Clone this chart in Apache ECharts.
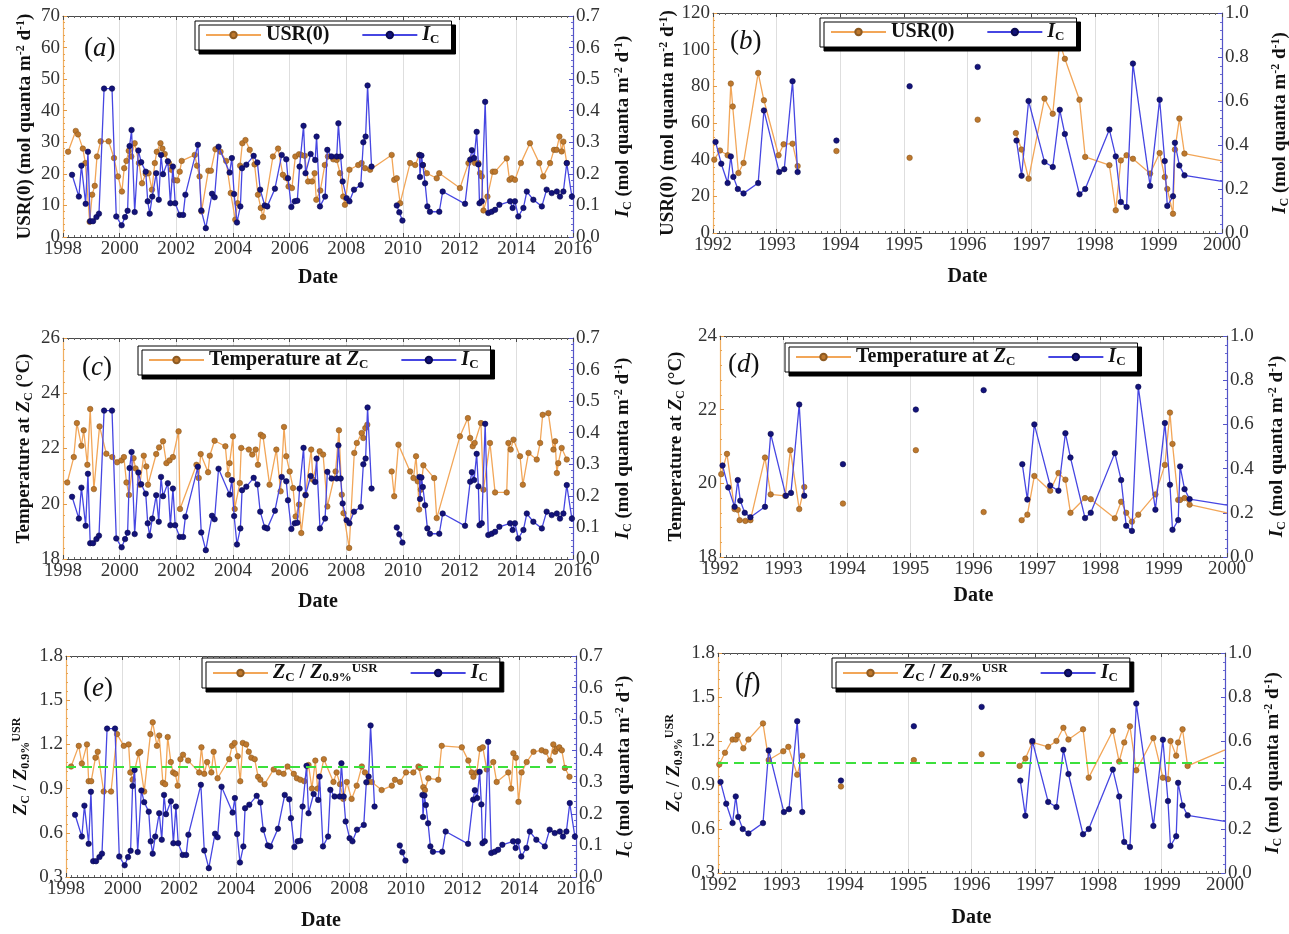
<!DOCTYPE html>
<html>
<head>
<meta charset="utf-8">
<script src="https://cdn.jsdelivr.net/npm/echarts@6/dist/echarts.min.js"></script>
<style>
  html, body { margin: 0; padding: 0; background: #fff; }
  #chart { width: 1289px; height: 934px; }
</style>
</head>
<body>
<div id="chart"></div>
<script>
// ---------- Data: [decimal year, value]; null breaks the joined line ----------

// Compensation irradiance I_C (mol quanta m^-2 d^-1), 1998-2016 record
const icLate = [
  [1998.32,0.197],[1998.56,0.128],[1998.65,0.226],[1998.80,0.105],[1998.88,0.27],[1998.96,0.05],
  [1999.06,0.05],[1999.18,0.063],[1999.27,0.074],[1999.45,0.47],[1999.73,0.47],[1999.88,0.065],
  [2000.07,0.037],[2000.19,0.063],[2000.28,0.083],[2000.35,0.288],[2000.42,0.339],[2000.53,0.079],
  [2000.66,0.274],[2000.76,0.237],[2000.92,0.207],[2000.99,0.113],[2001.06,0.074],[2001.15,0.128],
  [2001.29,0.202],[2001.38,0.118],[2001.46,0.26],[2001.53,0.199],[2001.70,0.24],[2001.79,0.107],
  [2001.88,0.223],[2001.96,0.107],[2002.12,0.07],[2002.24,0.07],[2002.32,0.134],[2002.76,0.292],
  [2002.88,0.084],[2003.04,0.028],[2003.26,0.137],[2003.35,0.126],[2003.49,0.286],[2003.88,0.204],
  [2003.96,0.25],[2004.04,0.136],[2004.14,0.046],[2004.26,0.097],[2004.32,0.218],[2004.47,0.229],
  [2004.73,0.257],[2004.86,0.236],[2004.96,0.15],[2005.12,0.10],[2005.21,0.097],[2005.48,0.153],
  [2005.72,0.26],[2005.88,0.246],[2005.94,0.186],[2006.06,0.095],[2006.18,0.113],[2006.27,0.115],
  [2006.35,0.223],[2006.49,0.352],[2006.56,0.202],[2006.74,0.263],[2006.90,0.244],[2006.95,0.318],
  [2007.07,0.097],[2007.25,0.128],[2007.33,0.276],[2007.48,0.255],[2007.66,0.255],[2007.72,0.36],
  [2007.80,0.255],[2007.87,0.176],[2008.01,0.123],[2008.11,0.113],[2008.27,0.15],[2008.51,0.165],
  [2008.60,0.30],[2008.68,0.318],[2008.75,0.48],[2008.89,0.223],[2009.30,null],
  [2009.78,0.10],[2009.87,0.078],[2009.98,0.052],[2010.30,null],
  [2010.58,0.26],[2010.60,0.19],[2010.65,0.258],[2010.70,0.228],[2010.78,0.17],[2010.86,0.097],
  [2010.95,0.08],[2011.28,0.08],[2011.40,0.144],[2012.19,0.105],[2012.37,0.245],[2012.43,0.275],
  [2012.51,0.25],[2012.60,0.333],[2012.66,0.23],[2012.70,0.107],[2012.78,0.113],[2012.90,0.428],
  [2013.01,0.076],[2013.13,0.08],[2013.25,0.086],[2013.40,0.102],[2013.78,0.113],[2013.87,0.092],
  [2013.95,0.113],[2014.07,0.065],[2014.25,0.092],[2014.37,0.144],[2014.60,0.118],[2014.90,0.097],
  [2015.07,0.15],[2015.25,0.139],[2015.43,0.144],[2015.54,0.128],[2015.66,0.144],[2015.78,0.234],
  [2015.96,0.128]
];

// Surface radiation USR(0) (mol quanta m^-2 d^-1), 1998-2016
const usrLate = [
  [1998.18,27],[1998.45,33.6],[1998.53,32.5],[1998.70,28],[1998.79,23.4],[1998.94,4.8],[1999.03,13.4],
  [1999.12,16.2],[1999.20,25.5],[1999.33,30.3],[1999.61,30.3],[1999.80,25],[1999.94,19.2],[2000.08,14.4],
  [2000.16,21.8],[2000.24,24.1],[2000.32,27.3],[2000.41,25.5],[2000.53,29.7],[2000.68,23.4],[2000.79,17],
  [2000.92,20],[2001.02,20.2],[2001.14,15],[2001.24,23.4],[2001.31,27],[2001.44,29.7],[2001.51,28],
  [2001.59,26.3],[2001.74,23.4],[2001.82,21.3],[2001.93,18],[2002.03,17.9],[2002.12,20.7],[2002.19,24.1],
  [2002.65,26],[2002.73,22.6],[2002.82,19.2],[2002.89,8.1],[2003.13,21],[2003.22,21],[2003.38,27.8],
  [2003.56,27],[2003.76,24.1],[2003.92,13.9],[2004.08,5.5],[2004.16,10.7],[2004.25,22.6],[2004.33,29.7],
  [2004.44,30.7],[2004.59,27.6],[2004.76,23],[2004.88,13.4],[2004.98,9.2],[2005.06,6.3],[2005.41,25.5],
  [2005.59,28],[2005.76,19.7],[2005.86,18.8],[2005.96,16],[2006.08,15.5],[2006.20,25.5],[2006.33,26.2],
  [2006.41,26],[2006.53,25.7],[2006.65,17.6],[2006.79,17.6],[2006.88,20.2],[2006.94,11.8],[2007.08,14.7],
  [2007.24,22.8],[2007.35,25.5],[2007.54,24.6],[2007.66,24.4],[2007.78,20.2],[2007.89,12.8],[2007.95,10.2],
  [2008.11,21.3],[2008.42,22.8],[2008.54,23.4],[2008.66,21.8],[2008.84,21.3],[2009.60,26],[2009.69,18.1],
  [2009.78,18.6],[2009.90,10.7],[2010.25,23.4],[2010.43,22.8],[2010.58,26],[2010.70,22.8],[2010.84,20.2],
  [2011.19,18.6],[2011.28,20.2],[2012.01,15.5],[2012.31,23.4],[2012.43,24.9],[2012.54,23.4],[2012.66,23.4],
  [2012.72,20.2],[2012.78,19.2],[2012.84,8.4],[2012.98,12.8],[2013.17,20.7],[2013.25,20.7],[2013.66,24.9],
  [2013.76,18.1],[2013.84,18.6],[2013.95,18.1],[2014.16,23.4],[2014.48,29.7],[2014.81,23.4],[2014.95,19.2],
  [2015.19,23.4],[2015.33,27.6],[2015.42,27.6],[2015.52,31.8],[2015.60,27.1],[2015.66,30.2],[2015.78,23.4]
];

// Temperature at Z_C (°C), 1998-2016
const tempLate = [
  [1998.15,20.77],[1998.38,21.69],[1998.49,22.92],[1998.65,22.1],[1998.73,22.66],[1998.86,21.41],
  [1998.96,23.43],[1999.09,20.53],[1999.29,22.8],[1999.53,21.81],[1999.74,21.69],[1999.91,21.5],
  [2000.06,21.57],[2000.15,21.69],[2000.24,20.77],[2000.33,20.32],[2000.49,21.65],[2000.56,21.28],
  [2000.71,20.69],[2000.85,21.74],[2000.94,21.35],[2001.00,20.69],[2001.29,21.8],[2001.39,22.04],
  [2001.53,22.26],[2001.65,21.47],[2001.76,21.57],[2001.88,21.69],[2002.08,22.62],[2002.13,19.81],
  [2002.71,21.41],[2002.79,20.93],[2002.86,21.8],[2003.12,21.14],[2003.18,21.74],[2003.35,22.28],
  [2003.73,22.08],[2003.82,21.05],[2003.88,21.47],[2004.00,22.44],[2004.06,19.81],[2004.24,20.75],
  [2004.29,22.02],[2004.56,21.96],[2004.68,21.78],[2004.80,21.96],[2004.88,21.41],[2004.98,22.5],
  [2005.06,22.44],[2005.29,20.69],[2005.53,21.96],[2005.68,20.45],[2005.80,22.78],[2005.88,21.72],
  [2006.00,21.17],[2006.12,20.57],[2006.21,19.54],[2006.33,19.97],[2006.41,18.94],[2006.56,20.33],
  [2006.76,21.96],[2006.82,20.87],[2007.06,21.9],[2007.18,21.78],[2007.33,19.9],[2007.62,21.17],
  [2007.74,22.66],[2007.84,20.33],[2007.90,19.66],[2008.10,18.4],[2008.28,21.84],[2008.37,22.2],
  [2008.54,22.56],[2008.60,22.38],[2008.67,22.74],[2008.74,22.86],[2009.20,null],
  [2009.60,21.17],[2009.69,20.27],[2009.84,22.14],[2010.25,21.17],[2010.37,20.93],[2010.46,21.72],
  [2010.52,20.81],[2010.57,19.79],[2010.63,20.51],[2010.72,21.39],[2011.10,20.93],[2011.19,19.48],
  [2012.01,22.44],[2012.29,23.1],[2012.37,22.38],[2012.46,22.08],[2012.53,22.2],[2012.75,22.92],
  [2012.84,20.51],[2013.07,22.2],[2013.25,20.41],[2013.66,20.41],[2013.72,22.2],[2013.80,21.96],
  [2013.90,22.32],[2014.13,21.72],[2014.23,20.69],[2014.43,21.84],[2014.72,21.6],[2014.84,22.2],
  [2014.93,23.22],[2015.13,23.28],[2015.31,21.96],[2015.37,22.26],[2015.43,21.11],[2015.48,21.47],
  [2015.60,22.02],[2015.78,21.6]
];

// Depth ratio Z_C / Z_0.9%^USR, 1998-2016
const ratioLate = [
  [1998.18,1.05],[1998.45,1.19],[1998.56,1.07],[1998.74,1.2],[1998.80,0.95],[1998.89,0.95],[1999.04,1.11],
  [1999.12,1.15],[1999.33,0.88],[1999.59,0.88],[1999.80,1.27],[2000.04,1.19],[2000.21,1.2],[2000.27,1.01],
  [2000.35,0.96],[2000.56,1.14],[2000.62,1.15],[2000.76,0.88],[2000.98,1.27],[2001.06,1.35],[2001.21,1.19],
  [2001.29,1.26],[2001.42,0.94],[2001.50,0.93],[2001.59,1.25],[2001.70,1.08],[2001.78,1.01],[2001.86,1.0],
  [2001.94,0.92],[2002.04,1.1],[2002.13,1.13],[2002.31,1.09],[2002.70,1.01],[2002.78,1.18],[2002.88,1.0],
  [2002.98,1.08],[2003.13,1.01],[2003.21,1.15],[2003.35,0.97],[2003.76,1.1],[2003.86,1.19],[2003.95,1.21],
  [2004.06,1.12],[2004.15,0.95],[2004.24,1.21],[2004.36,1.2],[2004.45,1.15],[2004.54,1.11],[2004.66,1.1],
  [2004.78,0.98],[2004.86,0.96],[2005.01,0.93],[2005.33,1.03],[2005.51,1.01],[2005.68,1.0],[2005.82,1.05],
  [2006.04,1.0],[2006.15,0.97],[2006.27,0.96],[2006.41,0.95],[2006.56,1.06],[2006.68,0.9],[2006.80,1.09],
  [2006.88,0.9],[2007.10,1.1],[2007.44,0.945],[2007.55,1.01],[2007.67,0.93],[2007.79,0.83],[2007.91,0.945],
  [2008.08,0.83],[2008.26,0.92],[2008.44,1.05],[2008.55,1.01],[2008.67,0.945],[2008.79,0.945],[2009.14,0.89],
  [2009.50,0.92],[2009.61,0.96],[2009.79,0.945],[2010.00,1.01],[2010.26,1.01],[2010.44,1.05],[2010.50,1.04],
  [2010.61,0.91],[2010.67,0.89],[2010.79,0.97],[2011.14,0.96],[2011.26,1.19],[2011.97,1.18],[2012.20,1.09],
  [2012.32,1.01],[2012.38,0.98],[2012.50,1.01],[2012.61,1.17],[2012.71,1.18],[2012.85,1.03],[2013.08,1.08],
  [2013.20,0.945],[2013.61,1.01],[2013.71,0.9],[2013.79,1.14],[2013.88,1.11],[2013.97,0.81],[2014.08,1.01],
  [2014.26,1.08],[2014.50,1.15],[2014.79,1.16],[2014.93,1.15],[2015.08,1.09],[2015.20,1.2],[2015.26,1.15],
  [2015.32,1.17],[2015.41,1.18],[2015.50,1.16],[2015.61,1.04],[2015.77,0.98]
];

// I_C, 1992-2000 record
const icEarly = [
  [1992.04,0.414],[1992.13,0.315],[1992.23,0.227],[1992.28,0.348],[1992.32,0.255],[1992.39,0.20],
  [1992.48,0.18],[1992.71,0.227],[1992.80,0.557],[1993.04,0.277],[1993.12,0.29],[1993.25,0.69],
  [1993.33,0.277],[1993.60,null],[1993.94,0.42],[1994.50,null],[1995.09,0.667],[1995.60,null],
  [1996.16,0.755],[1996.50,null],[1996.77,0.42],[1996.85,0.26],[1996.96,0.60],[1997.21,0.323],
  [1997.34,0.30],[1997.45,0.56],[1997.53,0.45],[1997.76,0.176],[1997.85,0.20],[1998.23,0.47],
  [1998.33,0.348],[1998.41,0.141],[1998.50,0.118],[1998.60,0.77],[1998.87,0.214],[1999.02,0.606],
  [1999.10,0.327],[1999.14,0.123],[1999.23,0.167],[1999.26,0.41],[1999.33,0.307],[1999.41,0.262],
  [2000.00,0.235]
];

// USR(0), 1992-2000
const usrEarly = [
  [1992.02,40],[1992.11,45],[1992.23,42.4],[1992.28,81.5],[1992.31,69],[1992.40,32.7],[1992.48,38.2],
  [1992.71,87.3],[1992.80,72.4],[1993.03,42.4],[1993.11,48.4],[1993.25,48.7],[1993.33,36.5],[1993.60,null],
  [1993.94,44.7],[1994.50,null],[1995.09,41],[1995.60,null],[1996.16,61.8],[1996.50,null],
  [1996.76,54.5],[1996.85,45.5],[1996.96,29.6],[1997.21,73.3],[1997.34,65],[1997.45,104],[1997.53,95],
  [1997.76,72.7],[1997.85,41.5],[1998.23,37],[1998.33,12.4],[1998.41,39.6],[1998.50,42.4],[1998.60,40.5],
  [1998.87,32.4],[1999.02,43.6],[1999.10,30.5],[1999.14,24],[1999.23,10.5],[1999.26,45.5],[1999.33,62.4],
  [1999.41,43.3],[2000.00,39.3]
];

// Temperature at Z_C, 1992-2000
const tempEarly = [
  [1992.02,20.25],[1992.11,20.8],[1992.23,19.3],[1992.28,19.28],[1992.31,19.0],[1992.40,18.98],
  [1992.48,19.0],[1992.71,20.7],[1992.80,19.7],[1993.03,19.66],[1993.11,20.9],[1993.25,19.3],
  [1993.33,19.9],[1993.60,null],[1993.94,19.45],[1994.50,null],[1995.09,20.9],[1995.60,null],
  [1996.16,19.22],[1996.50,null],[1996.76,19.0],[1996.85,19.15],[1996.96,20.2],[1997.21,19.8],
  [1997.34,20.28],[1997.45,20.1],[1997.53,19.2],[1997.76,19.6],[1997.85,19.57],[1998.23,19.05],
  [1998.33,19.5],[1998.41,19.2],[1998.50,18.96],[1998.60,19.15],[1998.87,19.7],[1999.02,20.5],
  [1999.10,21.92],[1999.14,21.07],[1999.23,19.55],[1999.26,19.55],[1999.33,19.6],[1999.41,19.42],
  [2000.00,19.2]
];

// Z_C / Z_0.9%^USR, 1992-2000
const ratioEarly = [
  [1992.02,1.04],[1992.11,1.12],[1992.23,1.21],[1992.28,1.21],[1992.31,1.24],[1992.40,1.15],
  [1992.48,1.21],[1992.71,1.32],[1992.80,1.07],[1993.03,1.13],[1993.11,1.16],[1993.25,0.97],
  [1993.33,1.1],[1993.60,null],[1993.94,0.89],[1994.50,null],[1995.09,1.07],[1995.60,null],
  [1996.16,1.11],[1996.50,null],[1996.76,1.03],[1996.85,1.08],[1996.96,1.19],[1997.21,1.16],
  [1997.34,1.2],[1997.45,1.29],[1997.53,1.21],[1997.76,1.28],[1997.85,0.95],[1998.23,1.27],
  [1998.33,1.06],[1998.41,1.19],[1998.50,1.3],[1998.60,1.0],[1998.87,1.22],[1999.02,0.95],
  [1999.10,0.94],[1999.14,1.2],[1999.23,1.1],[1999.26,1.19],[1999.33,1.28],[1999.41,1.03],
  [2000.00,1.14]
];

// Reference level of the depth ratio (dashed line)
const ratioThreshold = 1.05;

// Axis ranges: [min, max, interval]
const xLate = [1998, 2016, 2];
const xEarly = [1992, 2000, 1];
const yUsrLate = [0, 70, 10];
const yUsrEarly = [0, 120, 20];
const yTempLate = [18, 26, 2];
const yTempEarly = [18, 24, 2];
const yRatio = [0.3, 1.8, 0.3];
const yIcLate = [0, 0.7, 0.1];
const yIcEarly = [0, 1.0, 0.2];

// ---------- Styling ----------
const SERIF = '"Liberation Serif", "Times New Roman", serif';
const ORANGE_LINE = '#F2A658';
const ORANGE_DOT = '#BE782D';
const BLUE_LINE = '#4646E2';
const BLUE_DOT = '#13137A';
const AXIS_GREY = '#4a4a4a';

function richSet(size) {
  const small = Math.round(size * 0.64);
  const shift = Math.round(size * 0.45);
  return {
    b: { fontFamily: SERIF, fontWeight: 'bold', fontSize: size, color: '#111' },
    it: { fontFamily: SERIF, fontWeight: 'bold', fontStyle: 'italic', fontSize: size, color: '#111' },
    sub: { fontFamily: SERIF, fontWeight: 'bold', fontSize: small, color: '#111', padding: [shift, 0, 0, 0] },
    sup: { fontFamily: SERIF, fontWeight: 'bold', fontSize: small, color: '#111', padding: [0, 0, shift, 0] }
  };
}

const T_USR = '{b|USR(0) (mol quanta m}{sup|-2}{b| d}{sup|-1}{b|)}';
const T_IC = '{it|I}{sub|C}{b| (mol quanta m}{sup|-2}{b| d}{sup|-1}{b|)}';
const T_TEMP = '{b|Temperature at }{it|Z}{sub|C}{b| (°C)}';
const T_RATIO = '{it|Z}{sub|C}{b| / }{it|Z}{sub|0.9%}{sup|USR}';
const L_USR = '{b|USR(0)}';
const L_IC = '{it|I}{sub|C}';
const L_TEMP = '{b|Temperature at }{it|Z}{sub|C}';

const panels = [
  { tag: 'a', grid: { left: 63, top: 16, width: 510, height: 221 }, x: xLate, yl: yUsrLate, yr: yIcLate,
    orange: usrLate, blue: icLate, lTitle: T_USR, lLegend: L_USR, legendPos: { left: 195, top: 21 },
    lGap: 27, rGap: 40, xGap: 31, lDec: 0, rDec: 1, tagPos: [84, 35], edge: false, ref: false },
  { tag: 'b', grid: { left: 713, top: 13, width: 509, height: 220 }, x: xEarly, yl: yUsrEarly, yr: yIcEarly,
    orange: usrEarly, blue: icEarly, lTitle: T_USR, lLegend: L_USR, legendPos: { left: 820, top: 18 },
    lGap: 31, rGap: 48, xGap: 34, lDec: 0, rDec: 1, tagPos: [730, 28], edge: true, ref: false },
  { tag: 'c', grid: { left: 63, top: 338, width: 510, height: 221 }, x: xLate, yl: yTempLate, yr: yIcLate,
    orange: tempLate, blue: icLate, lTitle: T_TEMP, lLegend: L_TEMP, legendPos: { left: 138, top: 346 },
    lGap: 28, rGap: 40, xGap: 33, lDec: 0, rDec: 1, tagPos: [82, 354], edge: false, ref: false },
  { tag: 'd', grid: { left: 720, top: 336, width: 507, height: 221 }, x: xEarly, yl: yTempEarly, yr: yIcEarly,
    orange: tempEarly, blue: icEarly, lTitle: T_TEMP, lLegend: L_TEMP, legendPos: { left: 785, top: 343 },
    lGap: 33, rGap: 40, xGap: 29, lDec: 0, rDec: 1, tagPos: [728, 351], edge: true, ref: false },
  { tag: 'e', grid: { left: 66, top: 656, width: 510, height: 221 }, x: xLate, yl: yRatio, yr: yIcLate,
    orange: ratioLate, blue: icLate, lTitle: T_RATIO, lLegend: T_RATIO, legendPos: { left: 202, top: 658 },
    lGap: 34, rGap: 38, xGap: 34, lDec: 1, rDec: 1, tagPos: [83, 675], edge: false, ref: true },
  { tag: 'f', grid: { left: 718, top: 653, width: 507, height: 220 }, x: xEarly, yl: yRatio, yr: yIcEarly,
    orange: ratioEarly, blue: icEarly, lTitle: T_RATIO, lLegend: T_RATIO, legendPos: { left: 832, top: 658 },
    lGap: 33, rGap: 38, xGap: 35, lDec: 1, rDec: 1, tagPos: [735, 670], edge: true, ref: true }
];

// Convert [x, y|null] pairs into line data; null -> gap, optional unmarked last point
function toData(arr, edge) {
  return arr.map(function (p, k) {
    if (p[1] === null) return [p[0], '-'];
    if (edge && k === arr.length - 1) return { value: [p[0], p[1]], symbol: 'none' };
    return [p[0], p[1]];
  });
}

const option = {
  animation: false,
  backgroundColor: '#ffffff',
  grid: [], xAxis: [], yAxis: [], series: [], legend: [], graphic: []
};

panels.forEach(function (p, i) {
  option.grid.push(Object.assign({ containLabel: false, outerBoundsMode: 'none', show: false }, p.grid));

  const xBase = { gridIndex: i, type: 'value', min: p.x[0], max: p.x[1], interval: p.x[2] };
  const frameTicks = {
    axisLine: { show: true, onZero: false, lineStyle: { color: AXIS_GREY, width: 1 } },
    axisTick: { show: true, inside: true, length: 4, lineStyle: { color: AXIS_GREY } },
    minorTick: { show: true, splitNumber: 10, length: 2, lineStyle: { color: '#666' } }
  };
  option.xAxis.push(Object.assign({}, xBase, frameTicks, {
    position: 'bottom',
    axisLabel: { fontFamily: SERIF, fontSize: 19, color: '#333', margin: 3,
      formatter: function (v) { return String(v); } },
    splitLine: { show: true, lineStyle: { color: '#dedede', width: 1 } },
    name: 'Date', nameLocation: 'middle', nameGap: p.xGap,
    nameTextStyle: { fontFamily: SERIF, fontWeight: 'bold', fontSize: 20, color: '#111' }
  }));
  option.xAxis.push(Object.assign({}, xBase, frameTicks, {
    position: 'top',
    axisLabel: { show: false },
    splitLine: { show: false }
  }));

  option.yAxis.push({
    gridIndex: i, type: 'value', position: 'left',
    min: p.yl[0], max: p.yl[1], interval: p.yl[2],
    axisLine: { show: true, onZero: false, lineStyle: { color: '#F0AE60', width: 1.2 } },
    axisTick: { show: true, inside: true, length: 4, lineStyle: { color: '#E39A45' } },
    minorTick: { show: true, splitNumber: 5, length: 2, lineStyle: { color: '#E8A452' } },
    splitLine: { show: false },
    axisLabel: { fontFamily: SERIF, fontSize: 19, color: '#333', margin: 3,
      formatter: function (v) { return v.toFixed(p.lDec); } },
    name: p.lTitle, nameLocation: 'middle', nameRotate: 90, nameGap: p.lGap,
    nameTextStyle: { rich: richSet(19) }
  });
  option.yAxis.push({
    gridIndex: i, type: 'value', position: 'right',
    min: p.yr[0], max: p.yr[1], interval: p.yr[2],
    axisLine: { show: true, onZero: false, lineStyle: { color: '#5454C8', width: 1.2 } },
    axisTick: { show: true, inside: true, length: 4, lineStyle: { color: '#5454C8' } },
    minorTick: { show: true, splitNumber: 5, length: 2, lineStyle: { color: '#6a6ad0' } },
    splitLine: { show: false },
    axisLabel: { fontFamily: SERIF, fontSize: 19, color: '#333', margin: 3,
      formatter: function (v) { return v.toFixed(p.rDec); } },
    name: T_IC, nameLocation: 'middle', nameRotate: 90, nameGap: p.rGap,
    nameTextStyle: { rich: richSet(19) }
  });

  const oName = p.tag + '-orange', bName = p.tag + '-blue';
  const orangeSeries = {
    name: oName, type: 'line', xAxisIndex: 2 * i, yAxisIndex: 2 * i,
    data: toData(p.orange, p.edge),
    symbol: 'circle', symbolSize: 5.5, showSymbol: true, connectNulls: false,
    lineStyle: { color: ORANGE_LINE, width: 1.3 },
    itemStyle: { color: ORANGE_DOT, borderColor: '#8d5a22', borderWidth: 0.6 },
    z: 3
  };
  if (p.ref) {
    orangeSeries.markLine = {
      silent: true, symbol: 'none', label: { show: false },
      lineStyle: { color: '#3CE03C', type: [10, 6], width: 2 },
      data: [{ yAxis: ratioThreshold }]
    };
  }
  option.series.push(orangeSeries);
  option.series.push({
    name: bName, type: 'line', xAxisIndex: 2 * i, yAxisIndex: 2 * i + 1,
    data: toData(p.blue, p.edge),
    symbol: 'circle', symbolSize: 5.5, showSymbol: true, connectNulls: false,
    lineStyle: { color: BLUE_LINE, width: 1.3 },
    itemStyle: { color: BLUE_DOT, borderColor: '#0a0a50', borderWidth: 0.6 },
    z: 4
  });

  const labels = {};
  labels[oName] = p.lLegend;
  labels[bName] = L_IC;
  option.legend.push({
    data: [oName, bName],
    left: p.legendPos.left, top: p.legendPos.top,
    orient: 'horizontal', itemGap: 32, itemWidth: 55, itemHeight: 8,
    padding: [4, 12, 4, 10],
    backgroundColor: '#ffffff', borderColor: '#000', borderWidth: 1,
    shadowColor: '#000', shadowBlur: 0, shadowOffsetX: 4, shadowOffsetY: 4,
    selectedMode: false,
    formatter: function (n) { return labels[n]; },
    textStyle: { fontFamily: SERIF, fontWeight: 'bold', fontSize: 20, color: '#111', rich: richSet(20) }
  });

  option.graphic.push({
    type: 'text', left: p.tagPos[0], top: p.tagPos[1], z: 100,
    style: {
      text: '{p|(}{l|' + p.tag + '}{p|)}',
      rich: {
        p: { fontFamily: SERIF, fontSize: 27, fill: '#111' },
        l: { fontFamily: SERIF, fontSize: 27, fontStyle: 'italic', fill: '#111' }
      }
    }
  });
});

const chart = echarts.init(document.getElementById('chart'), null, { renderer: 'canvas' });
chart.setOption(option);
</script>
</body>
</html>
